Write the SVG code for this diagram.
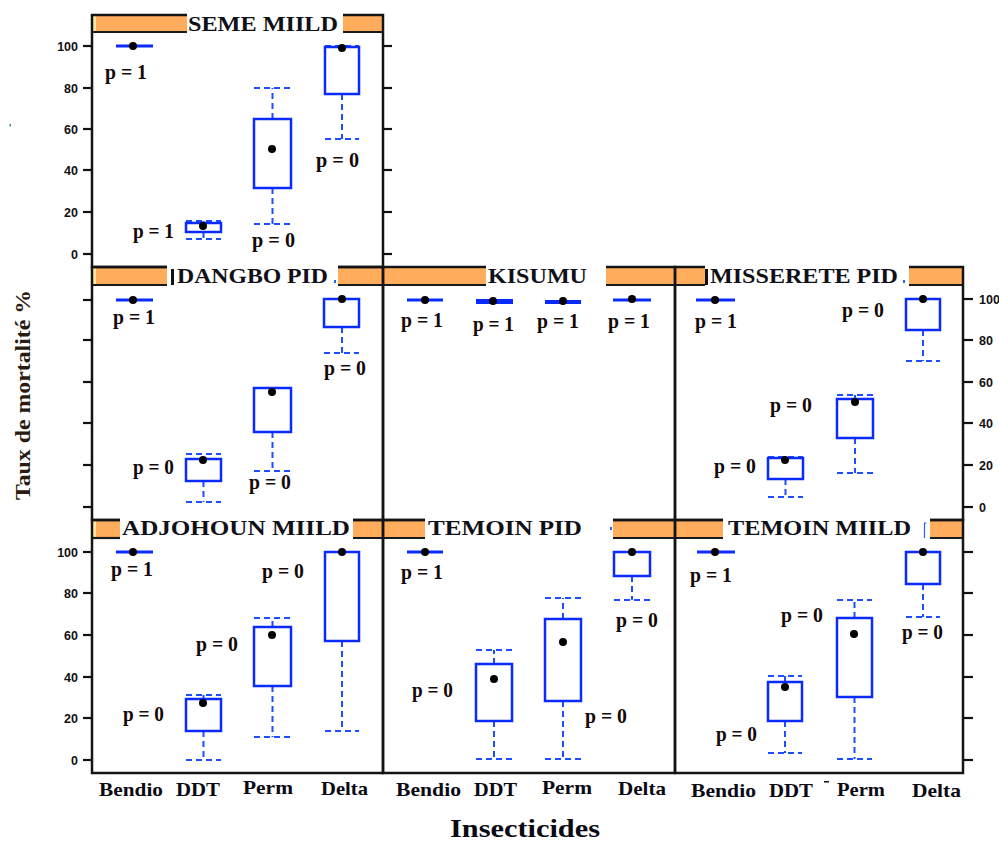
<svg xmlns="http://www.w3.org/2000/svg" width="999" height="843" viewBox="0 0 999 843">
<style>
.box{fill:#fff;stroke:#0a2bff;stroke-width:2.5}
.med{stroke:#0a2bff;stroke-width:2.8}
.wh{stroke:#1e4dff;stroke-width:2;stroke-dasharray:6 4;fill:none}
.dot{fill:#000}
.p{font-family:"Liberation Serif","Times New Roman",serif;font-weight:bold;font-size:20px;fill:#140808}
.xl{font-family:"Liberation Serif","Times New Roman",serif;font-weight:bold;font-size:19px;fill:#0a0a14}
.st{font-family:"Liberation Serif","Times New Roman",serif;font-weight:bold;font-size:20px;fill:#101018}
.tl{font-family:"Liberation Sans",Arial,sans-serif;font-weight:bold;font-size:12.5px;fill:#111}
.tk{stroke:#111;stroke-width:2.2}
.frame{fill:none;stroke:#141414;stroke-width:2.5}
.or{fill:#FFAD5C}
.sl{stroke:#1a1a1a;stroke-width:2.2}
.wb{fill:#fff}
</style>
<rect width="999" height="843" fill="#fff"/>
<rect x="9.5" y="124" width="1.5" height="2.5" fill="#3a8a9a"/>

<!-- strips orange -->
<g id="strips">
<rect class="or" x="92" y="15" width="95" height="17"/><rect x="93" y="16" width="3" height="15" fill="#FFE9A0"/>
<rect class="or" x="343" y="15" width="40" height="17"/>
<line class="sl" x1="92" y1="32" x2="187" y2="32"/><line class="sl" x1="343" y1="32" x2="383" y2="32"/>

<rect class="or" x="92" y="267" width="75" height="18"/><rect x="93" y="268" width="3" height="16" fill="#FFE9A0"/>
<rect class="or" x="338" y="267" width="148" height="18"/>
<rect class="or" x="606" y="267" width="99" height="18"/>
<rect class="or" x="909" y="267" width="54" height="18"/>
<line class="sl" x1="92" y1="285" x2="167" y2="285"/><line class="sl" x1="338" y1="285" x2="486" y2="285"/>
<line class="sl" x1="606" y1="285" x2="705" y2="285"/><line class="sl" x1="909" y1="285" x2="963" y2="285"/>

<rect class="or" x="92" y="520" width="28" height="18"/><rect x="93" y="521" width="3" height="16" fill="#FFE9A0"/>
<rect class="or" x="353" y="520" width="72" height="18"/>
<rect class="or" x="613" y="520" width="110" height="18"/>
<rect class="or" x="930" y="520" width="33" height="18"/>
<line class="sl" x1="92" y1="538" x2="120" y2="538"/><line class="sl" x1="353" y1="538" x2="425" y2="538"/>
<line class="sl" x1="613" y1="538" x2="723" y2="538"/><line class="sl" x1="930" y1="538" x2="963" y2="538"/>
</g>

<!-- frames -->
<g id="frames">
<rect class="frame" x="92" y="15" width="291" height="252"/>
<rect class="frame" x="92" y="267" width="291" height="253"/>
<rect class="frame" x="383" y="267" width="292" height="253"/>
<rect class="frame" x="675" y="267" width="288" height="253"/>
<rect class="frame" x="92" y="520" width="291" height="253"/>
<rect class="frame" x="383" y="520" width="292" height="253"/>
<rect class="frame" x="675" y="520" width="288" height="253"/>
</g>

<!-- strip titles -->
<g id="titles">
<rect class="wb" x="187" y="13" width="156" height="18"/>
<text class="st" x="188" y="31" textLength="150" lengthAdjust="spacingAndGlyphs">SEME MIILD</text>

<rect class="wb" x="167" y="265" width="171" height="19"/>
<rect x="171" y="269" width="3" height="16" fill="#111"/>
<text class="st" x="177" y="283" textLength="151" lengthAdjust="spacingAndGlyphs">DANGBO PID</text>
<rect x="334" y="280" width="2" height="3" fill="#2a5cff"/>

<rect class="wb" x="486" y="265" width="120" height="19"/>
<text class="st" x="488" y="283" textLength="99" lengthAdjust="spacingAndGlyphs">KISUMU</text>

<rect class="wb" x="705" y="265" width="204" height="19"/>
<rect x="705" y="269" width="3" height="16" fill="#111"/>
<text class="st" x="710" y="283" textLength="188" lengthAdjust="spacingAndGlyphs">MISSERETE PID</text>
<rect x="903" y="280" width="2" height="3" fill="#2a5cff"/>

<rect class="wb" x="120" y="518" width="233" height="19"/>
<text class="st" x="122" y="535" textLength="228" lengthAdjust="spacingAndGlyphs">ADJOHOUN MIILD</text>

<rect class="wb" x="425" y="518" width="188" height="19"/>
<text class="st" x="428" y="535" textLength="154" lengthAdjust="spacingAndGlyphs">TEMOIN  PID</text>
<rect x="610" y="527" width="2" height="3" fill="#2a5cff"/>

<rect class="wb" x="723" y="518" width="207" height="19"/>
<text class="st" x="728" y="535" textLength="183" lengthAdjust="spacingAndGlyphs">TEMOIN MIILD</text>
<path d="M924.5 538 V523 H926.5" fill="none" stroke="#2a5cff" stroke-width="1.2"/>
</g>

<!-- axes -->
<g id="axes">
<g class="tk">
<line x1="83" y1="46" x2="92" y2="46"/><line x1="83" y1="88" x2="92" y2="88"/><line x1="83" y1="129" x2="92" y2="129"/><line x1="83" y1="170" x2="92" y2="170"/><line x1="83" y1="212" x2="92" y2="212"/><line x1="83" y1="254" x2="92" y2="254"/>
<line x1="383" y1="46" x2="392" y2="46"/><line x1="383" y1="88" x2="392" y2="88"/><line x1="383" y1="129" x2="392" y2="129"/><line x1="383" y1="170" x2="392" y2="170"/><line x1="383" y1="212" x2="392" y2="212"/><line x1="383" y1="254" x2="392" y2="254"/>
<line x1="83" y1="300" x2="92" y2="300"/><line x1="83" y1="340" x2="92" y2="340"/><line x1="83" y1="382" x2="92" y2="382"/><line x1="83" y1="423" x2="92" y2="423"/><line x1="83" y1="465" x2="92" y2="465"/><line x1="83" y1="507" x2="92" y2="507"/>
<line x1="963" y1="299" x2="973" y2="299"/><line x1="963" y1="340" x2="973" y2="340"/><line x1="963" y1="382" x2="973" y2="382"/><line x1="963" y1="423" x2="973" y2="423"/><line x1="963" y1="465" x2="973" y2="465"/><line x1="963" y1="507" x2="973" y2="507"/>
<line x1="83" y1="552" x2="92" y2="552"/><line x1="83" y1="593" x2="92" y2="593"/><line x1="83" y1="635" x2="92" y2="635"/><line x1="83" y1="677" x2="92" y2="677"/><line x1="83" y1="718" x2="92" y2="718"/><line x1="83" y1="760" x2="92" y2="760"/>
<line x1="963" y1="552" x2="973" y2="552"/><line x1="963" y1="593" x2="973" y2="593"/><line x1="963" y1="635" x2="973" y2="635"/><line x1="963" y1="677" x2="973" y2="677"/><line x1="963" y1="718" x2="973" y2="718"/><line x1="963" y1="760" x2="973" y2="760"/>
</g>
<g class="tl" text-anchor="end">
<text x="78" y="51">100</text><text x="78" y="93">80</text><text x="78" y="134">60</text><text x="78" y="175">40</text><text x="78" y="217">20</text><text x="78" y="259">0</text>
<text x="78" y="557">100</text><text x="78" y="598">80</text><text x="78" y="640">60</text><text x="78" y="682">40</text><text x="78" y="723">20</text><text x="78" y="765">0</text>
</g>
<g class="tl">
<text x="979" y="304">100</text><text x="979" y="345">80</text><text x="979" y="387">60</text><text x="979" y="428">40</text><text x="979" y="470">20</text><text x="979" y="512">0</text>
</g>
<g class="xl">
<text x="99" y="796" textLength="64" lengthAdjust="spacingAndGlyphs">Bendio</text>
<text x="176" y="796" textLength="44" lengthAdjust="spacingAndGlyphs">DDT</text>
<text x="243" y="794" textLength="50" lengthAdjust="spacingAndGlyphs">Perm</text>
<text x="321" y="795" textLength="47" lengthAdjust="spacingAndGlyphs">Delta</text>
<text x="396" y="796" textLength="65" lengthAdjust="spacingAndGlyphs">Bendio</text>
<text x="474" y="796" textLength="43" lengthAdjust="spacingAndGlyphs">DDT</text>
<text x="542" y="794" textLength="50" lengthAdjust="spacingAndGlyphs">Perm</text>
<text x="618" y="795" textLength="48" lengthAdjust="spacingAndGlyphs">Delta</text>
<text x="691" y="797" textLength="65" lengthAdjust="spacingAndGlyphs">Bendio</text>
<text x="769" y="797" textLength="44" lengthAdjust="spacingAndGlyphs">DDT</text>
<text x="837" y="796" textLength="48" lengthAdjust="spacingAndGlyphs">Perm</text>
<text x="912" y="797" textLength="49" lengthAdjust="spacingAndGlyphs">Delta</text>
</g>
<rect x="824" y="781" width="5" height="1.5" fill="#111"/>
<text x="525" y="837" text-anchor="middle" textLength="150" lengthAdjust="spacingAndGlyphs" style="font-family:'Liberation Serif','Times New Roman',serif;font-weight:bold;font-size:25px;fill:#0a0a14">Insecticides</text>
<text transform="translate(30 395) rotate(-90)" text-anchor="middle" textLength="210" lengthAdjust="spacingAndGlyphs" style="font-family:'Liberation Serif','Times New Roman',serif;font-weight:bold;font-size:22px;fill:#2a1a10">Taux de mortalité %</text>
</g>

<!-- SEME MIILD -->
<g id="seme-miild">
<line class="med" x1="116" y1="46" x2="153" y2="46"/><circle class="dot" cx="133" cy="46" r="4"/>
<line class="wh" x1="203.5" y1="223" x2="203.5" y2="221"/><line class="wh" x1="203.5" y1="232" x2="203.5" y2="239"/>
<line class="wh" x1="186" y1="221" x2="221" y2="221"/><line class="wh" x1="186" y1="239" x2="221" y2="239"/>
<rect class="box" x="186" y="223" width="35" height="9"/><circle class="dot" cx="203" cy="226" r="4"/>
<line class="wh" x1="272.5" y1="119" x2="272.5" y2="88"/><line class="wh" x1="272.5" y1="188" x2="272.5" y2="224"/>
<line class="wh" x1="254" y1="88" x2="291" y2="88"/><line class="wh" x1="254" y1="224" x2="291" y2="224"/>
<rect class="box" x="254" y="119" width="37" height="69"/><circle class="dot" cx="272" cy="149" r="4"/>
<line class="wh" x1="342" y1="94" x2="342" y2="139"/>
<line class="wh" x1="325" y1="46" x2="359" y2="46"/><line class="wh" x1="325" y1="139" x2="359" y2="139"/>
<rect class="box" x="325" y="47" width="34" height="47"/><circle class="dot" cx="342" cy="48" r="4"/>
<g class="p">
<text x="105" y="79" textLength="42" lengthAdjust="spacingAndGlyphs">p = 1</text>
<text x="133" y="238" textLength="41" lengthAdjust="spacingAndGlyphs">p = 1</text>
<text x="252" y="247" textLength="43" lengthAdjust="spacingAndGlyphs">p = 0</text>
<text x="316" y="167" textLength="43" lengthAdjust="spacingAndGlyphs">p = 0</text>
</g>
</g>

<!-- DANGBO PID -->
<g id="dangbo-pid">
<line class="med" x1="116" y1="300" x2="153" y2="300"/><circle class="dot" cx="133" cy="300" r="4"/>
<line class="wh" x1="203.5" y1="481" x2="203.5" y2="502"/>
<line class="wh" x1="186" y1="454" x2="221" y2="454"/><line class="wh" x1="186" y1="502" x2="221" y2="502"/>
<rect class="box" x="186" y="459" width="35" height="22"/><circle class="dot" cx="203" cy="460" r="4"/>
<line class="wh" x1="272.5" y1="432" x2="272.5" y2="471"/>
<line class="wh" x1="254" y1="388" x2="291" y2="388"/><line class="wh" x1="254" y1="471" x2="291" y2="471"/>
<rect class="box" x="254" y="388" width="37" height="44"/><circle class="dot" cx="272" cy="392" r="4"/>
<line class="wh" x1="342" y1="327" x2="342" y2="353"/>
<line class="wh" x1="324" y1="353" x2="359" y2="353"/>
<rect class="box" x="324" y="299" width="35" height="28"/><circle class="dot" cx="342" cy="299" r="4"/>
<g class="p">
<text x="113" y="324" textLength="42" lengthAdjust="spacingAndGlyphs">p = 1</text>
<text x="133" y="474" textLength="41" lengthAdjust="spacingAndGlyphs">p = 0</text>
<text x="249" y="489" textLength="42" lengthAdjust="spacingAndGlyphs">p = 0</text>
<text x="324" y="375" textLength="42" lengthAdjust="spacingAndGlyphs">p = 0</text>
</g>
</g>

<!-- KISUMU -->
<g id="kisumu">
<line class="med" x1="407" y1="300" x2="443" y2="300"/><circle class="dot" cx="425" cy="300" r="4"/>
<rect x="476" y="299" width="37" height="5" fill="#0a2bff"/><circle class="dot" cx="493" cy="301" r="4"/>
<rect x="545" y="300" width="36" height="4" fill="#0a2bff"/><circle class="dot" cx="563" cy="301" r="4"/>
<line class="med" x1="613" y1="300" x2="651" y2="300"/><circle class="dot" cx="632" cy="299" r="4"/>
<g class="p">
<text x="401" y="327" textLength="42" lengthAdjust="spacingAndGlyphs">p = 1</text>
<text x="473" y="331" textLength="41" lengthAdjust="spacingAndGlyphs">p = 1</text>
<text x="537" y="328" textLength="42" lengthAdjust="spacingAndGlyphs">p = 1</text>
<text x="608" y="328" textLength="42" lengthAdjust="spacingAndGlyphs">p = 1</text>
</g>
</g>

<!-- MISSERETE PID -->
<g id="misserete-pid">
<line class="med" x1="696" y1="300" x2="735" y2="300"/><circle class="dot" cx="715" cy="300" r="4"/>
<line class="wh" x1="785.5" y1="479" x2="785.5" y2="497"/>
<line class="wh" x1="768" y1="457" x2="803" y2="457"/><line class="wh" x1="768" y1="497" x2="803" y2="497"/>
<rect class="box" x="768" y="458" width="35" height="21"/><circle class="dot" cx="785" cy="460" r="4"/>
<line class="wh" x1="855" y1="399" x2="855" y2="395"/><line class="wh" x1="855" y1="438" x2="855" y2="473"/>
<line class="wh" x1="837" y1="395" x2="873" y2="395"/><line class="wh" x1="837" y1="473" x2="873" y2="473"/>
<rect class="box" x="837" y="399" width="36" height="39"/><circle class="dot" cx="855" cy="402" r="4"/>
<line class="wh" x1="923" y1="330" x2="923" y2="361"/>
<line class="wh" x1="906" y1="361" x2="940" y2="361"/>
<rect class="box" x="906" y="299" width="34" height="31"/><circle class="dot" cx="923" cy="299" r="4"/>
<g class="p">
<text x="695" y="328" textLength="42" lengthAdjust="spacingAndGlyphs">p = 1</text>
<text x="714" y="473" textLength="42" lengthAdjust="spacingAndGlyphs">p = 0</text>
<text x="770" y="412" textLength="42" lengthAdjust="spacingAndGlyphs">p = 0</text>
<text x="842" y="317" textLength="42" lengthAdjust="spacingAndGlyphs">p = 0</text>
</g>
</g>

<!-- ADJOHOUN MIILD -->
<g id="adjohoun-miild">
<line class="med" x1="116" y1="552" x2="153" y2="552"/><circle class="dot" cx="133" cy="552" r="4"/>
<line class="wh" x1="203.5" y1="699" x2="203.5" y2="695"/><line class="wh" x1="203.5" y1="731" x2="203.5" y2="760"/>
<line class="wh" x1="186" y1="695" x2="221" y2="695"/><line class="wh" x1="186" y1="760" x2="221" y2="760"/>
<rect class="box" x="186" y="699" width="35" height="32"/><circle class="dot" cx="203" cy="703" r="4"/>
<line class="wh" x1="272.5" y1="627" x2="272.5" y2="618"/><line class="wh" x1="272.5" y1="686" x2="272.5" y2="737"/>
<line class="wh" x1="254" y1="618" x2="291" y2="618"/><line class="wh" x1="254" y1="737" x2="291" y2="737"/>
<rect class="box" x="254" y="627" width="37" height="59"/><circle class="dot" cx="272" cy="635" r="4"/>
<line class="wh" x1="342" y1="641" x2="342" y2="731"/>
<line class="wh" x1="325" y1="731" x2="359" y2="731"/>
<rect class="box" x="325" y="552" width="34" height="89"/><circle class="dot" cx="342" cy="552" r="4"/>
<g class="p">
<text x="111" y="576" textLength="42" lengthAdjust="spacingAndGlyphs">p = 1</text>
<text x="123" y="721" textLength="41" lengthAdjust="spacingAndGlyphs">p = 0</text>
<text x="196" y="651" textLength="42" lengthAdjust="spacingAndGlyphs">p = 0</text>
<text x="262" y="578" textLength="42" lengthAdjust="spacingAndGlyphs">p = 0</text>
</g>
</g>

<!-- TEMOIN PID -->
<g id="temoin-pid">
<line class="med" x1="407" y1="552" x2="443" y2="552"/><circle class="dot" cx="425" cy="552" r="4"/>
<line class="wh" x1="494" y1="664" x2="494" y2="650"/><line class="wh" x1="494" y1="721" x2="494" y2="759"/>
<line class="wh" x1="476" y1="650" x2="512" y2="650"/><line class="wh" x1="476" y1="759" x2="512" y2="759"/>
<rect class="box" x="476" y="664" width="36" height="57"/><circle class="dot" cx="494" cy="679" r="4"/>
<line class="wh" x1="563" y1="619" x2="563" y2="598"/><line class="wh" x1="563" y1="701" x2="563" y2="759"/>
<line class="wh" x1="545" y1="598" x2="581" y2="598"/><line class="wh" x1="545" y1="759" x2="581" y2="759"/>
<rect class="box" x="545" y="619" width="36" height="82"/><circle class="dot" cx="563" cy="642" r="4"/>
<line class="wh" x1="632" y1="576" x2="632" y2="600"/>
<line class="wh" x1="614" y1="600" x2="650" y2="600"/>
<rect class="box" x="614" y="552" width="36" height="24"/><circle class="dot" cx="632" cy="552" r="4"/>
<g class="p">
<text x="401" y="579" textLength="42" lengthAdjust="spacingAndGlyphs">p = 1</text>
<text x="412" y="697" textLength="41" lengthAdjust="spacingAndGlyphs">p = 0</text>
<text x="585" y="723" textLength="42" lengthAdjust="spacingAndGlyphs">p = 0</text>
<text x="616" y="627" textLength="42" lengthAdjust="spacingAndGlyphs">p = 0</text>
</g>
</g>

<!-- TEMOIN MIILD -->
<g id="temoin-miild">
<line class="med" x1="697" y1="552" x2="735" y2="552"/><circle class="dot" cx="715" cy="552" r="4"/>
<line class="wh" x1="785" y1="682" x2="785" y2="676"/><line class="wh" x1="785" y1="721" x2="785" y2="753"/>
<line class="wh" x1="768" y1="676" x2="802" y2="676"/><line class="wh" x1="768" y1="753" x2="802" y2="753"/>
<rect class="box" x="768" y="682" width="34" height="39"/><circle class="dot" cx="785" cy="687" r="4"/>
<line class="wh" x1="854.5" y1="618" x2="854.5" y2="600"/><line class="wh" x1="854.5" y1="697" x2="854.5" y2="759"/>
<line class="wh" x1="837" y1="600" x2="872" y2="600"/><line class="wh" x1="837" y1="759" x2="872" y2="759"/>
<rect class="box" x="837" y="618" width="35" height="79"/><circle class="dot" cx="854" cy="634" r="4"/>
<line class="wh" x1="923" y1="584" x2="923" y2="617"/>
<line class="wh" x1="906" y1="617" x2="940" y2="617"/>
<rect class="box" x="906" y="552" width="34" height="32"/><circle class="dot" cx="923" cy="552" r="4"/>
<g class="p">
<text x="690" y="582" textLength="42" lengthAdjust="spacingAndGlyphs">p = 1</text>
<text x="716" y="741" textLength="41" lengthAdjust="spacingAndGlyphs">p = 0</text>
<text x="781" y="622" textLength="42" lengthAdjust="spacingAndGlyphs">p = 0</text>
<text x="902" y="639" textLength="41" lengthAdjust="spacingAndGlyphs">p = 0</text>
</g>
</g>

<g id="connectors"/>
</svg>
